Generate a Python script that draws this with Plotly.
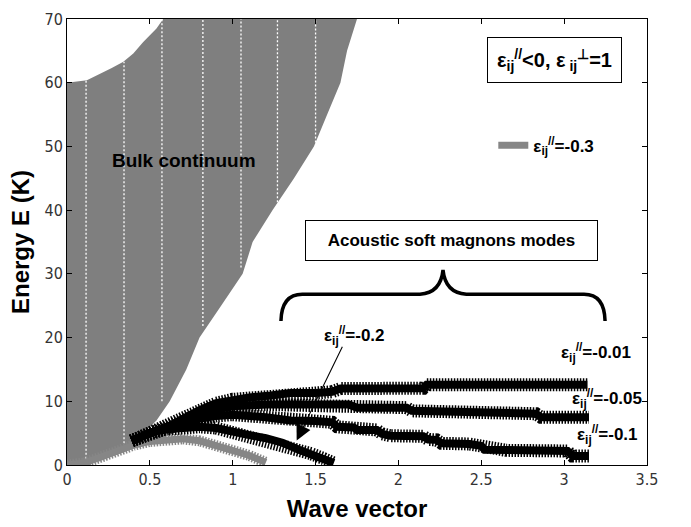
import plotly.graph_objects as go

# ---------------- data ----------------
x_ticks = [0, 0.5, 1, 1.5, 2, 2.5, 3, 3.5]
x_tick_labels = ["0", "0.5", "1", "1.5", "2", "2.5", "3", "3.5"]
y_ticks = [0, 10, 20, 30, 40, 50, 60, 70]
y_tick_labels = ["0", "10", "20", "30", "40", "50", "60", "70"]

# outline of the bulk continuum (grey area)
bulk_x = [0.0, 0.0, 0.12, 0.16, 0.20, 0.27, 0.34, 0.40, 0.46, 0.54, 0.58, 1.75, 1.69,
          1.65, 1.57, 1.49, 1.37, 1.24, 1.12, 1.06, 0.93, 0.80, 0.72, 0.62, 0.54,
          0.46, 0.42, 0.35, 0.25, 0.18, 0.14]
bulk_y = [0.0, 60.0, 60.4, 60.9, 61.5, 62.3, 63.3, 64.6, 66.4, 68.5, 70.0, 70.0, 65.0,
          60.0, 55.0, 50.0, 45.0, 40.0, 35.0, 30.0, 25.0, 20.0, 15.0, 10.0, 7.0,
          5.0, 3.9, 3.0, 1.8, 0.8, 0.0]

# white dotted stripes inside the bulk continuum
stripe_x = [0.115, 0.344, 0.573, 0.82, 1.05, 1.27, 1.50]
stripe_bottom = [1.0, 3.4, 10.0, 21.8, 31.0, 40.0, 50.0]
stripe_top = [60.4, 63.3, 70.0, 70.0, 70.0, 70.0, 70.0]

# eps_ij// = -0.3 (grey mode)
m03_x = [0.0, 0.1, 0.2, 0.3, 0.4, 0.5, 0.6, 0.7, 0.8, 0.9, 1.0, 1.1, 1.2]
m03_y = [0.0, 0.3, 1.2, 2.2, 3.1, 3.7, 4.0, 4.1, 3.8, 3.1, 2.4, 1.5, 0.4]

# acoustic soft magnon modes (black)
m001_x = [0.39, 0.45, 0.52, 0.60, 0.70, 0.80, 0.90, 1.00, 1.10, 1.23, 1.35, 1.50, 1.60,
          1.65, 2.15, 2.17, 3.14]
m001_y = [3.8, 4.5, 5.2, 5.9, 7.3, 8.6, 9.7, 10.3, 10.6, 10.9, 11.3, 11.3, 11.5,
          12.0, 12.05, 12.6, 12.6]

m005_x = [0.39, 0.45, 0.52, 0.60, 0.70, 0.80, 0.90, 1.00, 1.20, 1.70, 1.75, 2.05, 2.08,
          2.40, 2.45, 2.83, 2.86, 3.15]
m005_y = [3.8, 4.5, 5.2, 5.8, 7.0, 8.0, 8.7, 9.2, 9.5, 9.5, 9.0, 9.0, 8.5,
          8.4, 8.1, 8.05, 7.5, 7.5]

m01_x = [0.39, 0.45, 0.52, 0.60, 0.70, 0.80, 0.90, 1.00, 1.20, 1.35, 1.50, 1.60, 1.63,
         1.73, 1.75, 1.87, 1.90, 1.95, 2.15, 2.18, 2.23, 2.26, 2.43, 2.50, 2.52,
         2.65, 3.02, 3.05, 3.15]
m01_y = [3.8, 4.5, 5.2, 5.7, 6.6, 7.3, 7.7, 7.9, 7.5, 7.0, 6.9, 6.7, 6.0,
         5.9, 5.5, 5.5, 4.9, 4.6, 4.5, 4.0, 3.95, 3.4, 3.3, 3.0, 2.4,
         2.3, 2.2, 1.4, 1.4]

m02_x = [0.39, 0.45, 0.52, 0.60, 0.70, 0.80, 0.90, 1.00, 1.10, 1.20, 1.30, 1.40, 1.47,
         1.55, 1.61]
m02_y = [3.8, 4.5, 5.2, 5.6, 5.9, 6.0, 5.8, 5.1, 4.7, 4.2, 3.5, 2.4, 1.8,
         1.0, 0.3]

GREY = "#7f7f7f"
GREY_MODE = "#868686"
BLACK = "#000000"
FONT = "Liberation Sans, Arial, sans-serif"
NARROW = "Liberation Sans Narrow, DejaVu Sans Condensed, Arial Narrow, sans-serif"

fig = go.Figure()

# bulk continuum
fig.add_trace(go.Scatter(x=bulk_x, y=bulk_y, fill="toself", fillcolor=GREY,
                         mode="lines", line=dict(width=0, color=GREY),
                         hoverinfo="skip", showlegend=False))

# stripes
sx, sy = [], []
for xv, yb, yt in zip(stripe_x, stripe_bottom, stripe_top):
    sx += [xv, xv, None]
    sy += [yb, yt, None]
fig.add_trace(go.Scatter(x=sx, y=sy, mode="lines",
                         line=dict(color="white", width=1.3, dash="2px,2px"),
                         hoverinfo="skip", showlegend=False))


def add_mode(xs, ys, color, wide, core, name=None, legend=False):
    # comb-like edges made of short perpendicular dashes (star markers look)
    fig.add_trace(go.Scatter(x=xs, y=ys, mode="lines",
                             line=dict(color=color, width=wide, dash="1.5px,1.5px"),
                             hoverinfo="skip", showlegend=False))
    fig.add_trace(go.Scatter(x=xs, y=ys, mode="lines", name=name,
                             line=dict(color=color, width=core),
                             showlegend=legend))


add_mode(m03_x, m03_y, GREY_MODE, 11, 7, name="ε<sub>ij</sub><sup>//</sup>=-0.3", legend=True)
add_mode(m02_x, m02_y, BLACK, 13, 8, name="-0.2")
add_mode(m01_x, m01_y, BLACK, 13, 8, name="-0.1")
add_mode(m005_x, m005_y, BLACK, 13, 8, name="-0.05")
add_mode(m001_x, m001_y, BLACK, 13, 8, name="-0.01")

bold = dict(family=FONT, size=17, color="black", weight="bold")

annotations = [
    dict(x=0.706, y=47.8, text="Bulk continuum", showarrow=False,
         font=dict(family=FONT, size=19, color="black", weight="bold")),
    dict(x=2.94, y=63.5, text="ε<sub>ij</sub><sup>//</sup>&lt;0, ε<sub> ij</sub><sup>⊥</sup>=1",
         showarrow=False, font=dict(family=FONT, size=20, color="black", weight="bold"),
         bordercolor="black", borderwidth=1, borderpad=4, width=125, height=36,
         bgcolor="white"),
    dict(x=2.32, y=35.3, text="Acoustic soft magnons modes", showarrow=False,
         font=dict(family=FONT, size=17, color="black", weight="bold"),
         bordercolor="black", borderwidth=1, borderpad=4, width=283, height=31,
         bgcolor="white"),
    dict(x=1.732, y=20.3, text="ε<sub>ij</sub><sup>//</sup>=-0.2", showarrow=False, font=bold),
    dict(x=3.19, y=17.6, text="ε<sub>ij</sub><sup>//</sup>=-0.01", showarrow=False, font=bold),
    dict(x=3.26, y=10.5, text="ε<sub>ij</sub><sup>//</sup>=-0.05", showarrow=False, font=bold),
    dict(x=3.26, y=4.8, text="ε<sub>ij</sub><sup>//</sup>=-0.1", showarrow=False, font=bold),
    dict(x=1.386, y=3.85, ax=1.666, ay=18.8, axref="x", ayref="y", text="",
         showarrow=True, arrowhead=2, arrowsize=2.8, arrowwidth=1.1,
         arrowcolor="black", standoff=0),
]

brace = ("M 1.291,22.6 Q 1.295,26.8 1.42,26.8 L 2.13,26.8 Q 2.255,27.0 2.269,30.6 "
         "Q 2.283,27.0 2.41,26.8 L 3.12,26.8 Q 3.243,26.8 3.247,22.6")

fig.update_layout(
    width=691, height=527,
    margin=dict(l=67, r=44, t=10, b=62),
    paper_bgcolor="white", plot_bgcolor="white",
    font=dict(family=FONT, color="black"),
    annotations=annotations,
    shapes=[dict(type="path", path=brace, xref="x", yref="y",
                 line=dict(color="black", width=3.5))],
    legend=dict(x=0.735, y=0.716, xanchor="left", yanchor="middle",
                bgcolor="rgba(0,0,0,0)", borderwidth=0,
                font=dict(family=FONT, size=17, color="black", weight="bold")),
    xaxis=dict(range=[0, 3.5], tickvals=x_ticks, ticktext=x_tick_labels,
               showgrid=False, zeroline=False, showline=True, linecolor="black",
               linewidth=1, mirror="ticks", ticks="inside", ticklen=5,
               tickcolor="black",
               tickfont=dict(family=NARROW, size=16, color="#333333"),
               title=dict(text="Wave vector", standoff=11,
                          font=dict(family=FONT, size=24, color="black", weight="bold"))),
    yaxis=dict(range=[0, 70], tickvals=y_ticks, ticktext=y_tick_labels,
               showgrid=False, zeroline=False, showline=True, linecolor="black",
               linewidth=1, mirror="ticks", ticks="inside", ticklen=5,
               tickcolor="black",
               tickfont=dict(family=NARROW, size=16, color="#333333"),
               title=dict(text="Energy E (K)", standoff=8,
                          font=dict(family=FONT, size=24, color="black", weight="bold"))),
)

fig.write_html("out.html")
